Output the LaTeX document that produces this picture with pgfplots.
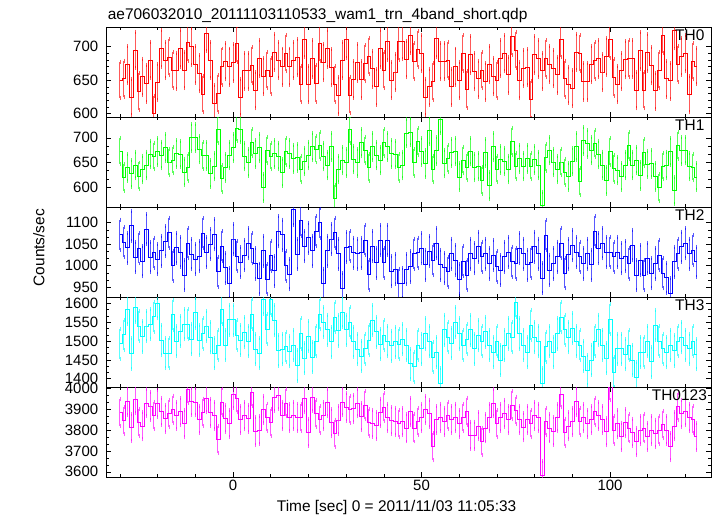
\documentclass[border=0pt]{standalone}
\usepackage{fontspec}
\setmainfont{Liberation Sans}
\usepackage{pgfplots}
\pgfplotsset{compat=1.18}
\usepackage{pgfplotstable}
\definecolor{thred}{RGB}{255,0,0}
\definecolor{thgreen}{RGB}{0,255,0}
\definecolor{thblue}{RGB}{0,0,255}
\definecolor{thcyan}{RGB}{0,255,255}
\definecolor{thmagenta}{RGB}{255,0,255}
\pgfplotstableread{
t a b c d e
-30 650 673 1072 1493 3885
-29 652 620 1055 1517 3845
-28 673 640 1042 1585 3938
-27 625 628 1093 1467 3812
-26 695 645 1020 1590 3945
-25 633 623 1040 1540 3838
-24 655 637 1010 1512 3820
-23 645 645 1085 1540 3930
-22 680 667 1020 1545 3915
-21 600 663 1030 1565 3870
-20 647 672 1015 1600 3928
-19 697 665 1035 1502 3890
-18 680 680 1057 1468 3855
-17 684 651 1077 1468 3880
-16 665 655 1000 1570 3900
-15 664 668 1042 1500 3870
-14 697 667 1032 1527 3888
-13 665 631 978 1545 3830
-12 706 640 1052 1545 3995
-11 700 700 1027 1505 3938
-10 673 700 1015 1575 3935
-9 660 677 1022 1503 3850
-8 629 664 1075 1520 3885
-7 720 664 1032 1540 3950
-6 680 628 1050 1510 3885
-5 615 643 1073 1468 3870
-4 630 717 986 1490 3755
-3 670 617 1045 1585 3935
-2 678 640 995 1490 3855
-1 670 665 960 1557 3830
0 676 680 1062 1557 3970
1 704 720 1022 1515 3950
2 625 718 1008 1503 3850
3 664 663 1025 1523 3868
4 664 650 1052 1500 3855
5 672 690 1040 1572 3980
6 635 668 1005 1478 3795
7 683 680 970 1468 3800
8 656 600 1035 1612 3900
9 665 675 968 1532 3862
10 656 663 1023 1610 3838
11 692 668 988 1555 3955
12 680 663 1080 1475 3965
13 670 630 1072 1478 3870
14 690 672 1000 1485 3930
15 670 668 980 1473 3860
16 680 658 1130 1490 3870
17 684 660 1027 1435 3862
18 644 637 1105 1520 3860
19 711 653 1045 1455 3950
20 644 665 1065 1513 3790
21 682 683 1035 1458 3958
22 645 677 1080 1500 3880
23 705 685 1100 1572 3850
24 677 663 958 1550 3870
25 697 645 1035 1530 3932
26 669 683 1062 1498 3835
27 644 578 1077 1563 3785
28 627 637 1028 1528 3848
29 680 655 947 1577 3935
30 710 650 1043 1530 3910
31 628 717 1045 1550 3900
32 651 657 1030 1498 3905
33 676 650 1028 1478 3930
34 651 690 1030 1460 3865
35 675 675 1060 1480 3920
36 686 640 979 1502 3835
37 667 683 1046 1555 3832
38 640 665 1007 1525 3822
39 697 655 1060 1492 3885
40 665 690 1007 1515 3910
41 707 683 1060 1500 3860
42 650 668 987 1488 3845
43 662 667 992 1498 3842
44 707 640 958 1492 3830
45 708 645 960 1505 3840
46 681 710 992 1490 3810
47 717 712 998 1440 3890
48 678 650 1028 1432 3810
49 696 692 1030 1490 3840
50 690 672 1040 1480 3860
51 625 648 1002 1520 3900
52 640 715 1034 1500 3880
53 648 637 1013 1458 3720
54 712 674 1053 1470 3850
55 678 737 1002 1388 3860
56 678 649 995 1530 3840
57 680 658 986 1510 3870
58 640 670 1028 1495 3850
59 670 673 1013 1551 3860
60 650 621 968 1520 3830
61 690 655 1011 1490 3860
62 636 641 978 1505 3890
63 688 673 1028 1530 3775
64 663 641 1017 1480 3775
65 652 643 1044 1515 3820
66 665 614 1021 1500 3745
67 648 670 1028 1525 3810
68 674 603 1005 1490 3860
69 656 682 1025 1470 3930
70 650 637 998 1500 3830
71 683 656 990 1450 3860
72 690 653 1021 1490 3880
73 658 637 1032 1520 3850
74 715 693 1009 1510 3920
75 695 643 1005 1604 3895
76 650 658 1040 1520 3850
77 668 643 1028 1490 3815
78 669 658 1002 1470 3850
79 621 643 1007 1543 3830
80 688 656 1044 1510 3870
81 682 645 1028 1500 3860
82 664 564 971 1388 3585
83 682 660 1071 1485 3840
84 674 675 990 1500 3810
85 668 651 1005 1470 3795
86 658 637 1021 1520 3860
87 711 651 1053 1563 3973
88 652 631 982 1530 3790
89 643 622 1027 1510 3820
90 638 653 1048 1535 3840
91 692 682 1032 1500 3936
92 690 611 1021 1490 3840
93 648 694 1005 1460 3860
94 648 689 1028 1423 3830
95 674 675 1002 1450 3850
96 679 689 1080 1500 3890
97 682 667 1040 1530 3870
98 662 645 1052 1490 3850
99 685 614 1032 1455 3792
100 710 672 1032 1558 4008
101 654 638 1021 1418 3800
102 644 635 1032 1480 3830
103 664 622 1017 1480 3770
104 681 645 1022 1465 3835
105 682 685 1005 1490 3810
106 682 645 1048 1450 3790
107 635 655 978 1405 3745
108 694 624 1013 1470 3800
109 635 670 978 1470 3810
110 691 647 1017 1500 3770
111 672 648 982 1445 3800
112 634 622 1005 1543 3785
113 665 599 1025 1500 3800
114 717 643 982 1480 3825
115 652 645 972 1470 3800
116 649 672 936 1490 3720
117 724 594 1009 1475 3820
118 674 685 1028 1500 3912
119 685 674 1044 1510 3880
120 690 675 1052 1490 3890
121 629 643 1028 1480 3860
122 678 641 1036 1500 3850
123 671 621 1009 1465 3770
}\lc

\pgfplotsset{
  panel/.style={
    scale only axis, width=605bp, height=90bp,
    anchor=north west,
    xmin=-33.7, xmax=126.8,
    xtick={0,50,100},
    minor xtick={-30,-20,-10,10,20,30,40,60,70,80,90,110,120},
    minor y tick num=2,
    tick align=inside,
    major tick length=5bp, minor tick length=3bp,
    axis line style={line width=0.7pt},
    tick style={line width=0.5pt, black},
    tick label style={font=\fontsize{15}{18}\selectfont},
    yticklabel style={xshift=-4.3bp},
    /pgf/number format/assume math mode=true,
    /pgf/number format/1000 sep={},
    scaled ticks=false,
    clip=true,
  },
  ser/.style 2 args={const plot mark mid, no markers, line width=0.65pt, color=#1,
    error bars/.cd, y dir=both, y fixed=#2, error mark options={draw=none},
    error bar style={line width=1pt, opacity=0.65}},
}
\newcommand{\thlabel}[2]{\node[anchor=north west, inner sep=0pt, font=\fontsize{15.5}{18}\selectfont] at (rel axis cs:#1,0.967) {#2};}

\begin{document}
\begin{tikzpicture}
\useasboundingbox (-106bp,-489bp) rectangle (611bp,27bp);

\begin{axis}[panel, at={(0bp,0bp)}, ymin=595, ymax=729, ytick={600,650,700}, minor y tick num=4, xticklabels={,,}]
\addplot[ser={thred}{27}] table[x=t,y=a]{\lc};
\thlabel{0.9405}{TH0}
\end{axis}

\begin{axis}[panel, at={(0bp,-90bp)}, ymin=560, ymax=742, ytick={600,650,700}, xticklabels={,,}]
\addplot[ser={thgreen}{27}] table[x=t,y=b]{\lc};
\thlabel{0.9405}{TH1}
\end{axis}

\begin{axis}[panel, at={(0bp,-180bp)}, ymin=927, ymax=1136.5, ytick={950,1000,1050,1100}, xticklabels={,,}]
\addplot[ser={thblue}{35}] table[x=t,y=c]{\lc};
\thlabel{0.9405}{TH2}
\end{axis}

\begin{axis}[panel, at={(0bp,-270bp)}, ymin=1378, ymax=1617, ytick={1400,1450,1500,1550,1600}, xticklabels={,,}]
\addplot[ser={thcyan}{40}] table[x=t,y=d]{\lc};
\thlabel{0.9405}{TH3}
\end{axis}

\begin{axis}[panel, at={(0bp,-360bp)}, ymin=3575, ymax=4006, ytick={3600,3700,3800,3900,4000}]
\addplot[ser={thmagenta}{65}] table[x=t,y=e]{\lc};
\thlabel{0.902}{TH0123}
\end{axis}

\node[anchor=base west, inner sep=0pt, font=\fontsize{15.5}{18}\selectfont] at (1.7bp,7.7bp) {ae706032010\_20111103110533\_wam1\_trn\_4band\_short.qdp};
\node[anchor=base west, inner sep=0pt, font=\fontsize{15.5}{18}\selectfont] at (170.7bp,-484.7bp) {Time [sec] 0 = 2011/11/03 11:05:33};
\node[anchor=base, rotate=90, inner sep=0pt, font=\fontsize{15.5}{18}\selectfont] at (-61.5bp,-220.6bp) {Counts/sec};
\end{tikzpicture}
\end{document}
